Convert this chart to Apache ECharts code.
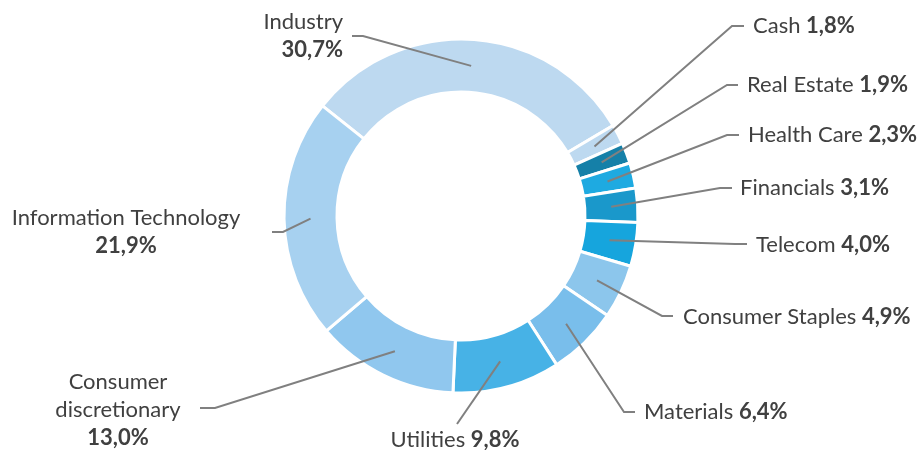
<!DOCTYPE html>
<html>
<head>
<meta charset="utf-8">
<script src="https://cdn.jsdelivr.net/npm/echarts@6/dist/echarts.min.js"></script>
<style>
html, body { margin: 0; padding: 0; background: #fff; }
#chart { width: 919px; height: 450px; }
</style>
</head>
<body>
<div id="chart"></div>
<script>
var categories = ['Industry', 'Cash', 'Real Estate', 'Health Care', 'Financials', 'Telecom',
    'Consumer Staples', 'Materials', 'Utilities', 'Consumer discretionary', 'Information Technology'];
var shares = [30.7, 1.8, 1.9, 2.3, 3.1, 4.0, 4.9, 6.4, 9.8, 13.0, 21.9];
var colors = ['#BDD9F0', '#BDD9F0', '#1580A8', '#1EAAE1', '#1A98CB', '#16A5DD',
    '#8CC6EC', '#79BEEB', '#47B2E6', '#90C7EE', '#A7D1F0'];

// where each label sits and how its leader line bends (pixels)
var labelSpots = [
    { x: 343, y: 36, align: 'right', bend: [363, 36], end: [352, 36], wrap: 'value' },
    { x: 753, y: 26, align: 'left', bend: [732, 26], end: [744, 26] },
    { x: 747, y: 85, align: 'left', bend: [727, 85], end: [738, 85] },
    { x: 748, y: 135, align: 'left', bend: [727, 135], end: [739, 135] },
    { x: 740, y: 188, align: 'left', bend: [720, 188], end: [732, 188] },
    { x: 756, y: 245, align: 'left', bend: [735, 244], end: [747, 244] },
    { x: 683, y: 317, align: 'left', bend: [662, 316], end: [673, 316] },
    { x: 644, y: 412, align: 'left', bend: [624, 412], end: [635, 412] },
    { x: 455, y: 440, align: 'center', bend: [457, 424], end: [457, 424] },
    { x: 118, y: 410, align: 'center', bend: [215, 408], end: [200, 408], wrap: 'all' },
    { x: 126, y: 232, align: 'center', bend: [283, 232], end: [272, 232], wrap: 'value' }
];

var cx = 461, cy = 216, rIn = 124, rOut = 177;
var startOffset = -51.5; // degrees clockwise from 12 o'clock

var total = shares.reduce(function (a, b) { return a + b; }, 0);

function fmt(v) {
    return v.toFixed(1).replace('.', ',') + '%';
}

function anchorPoint(i) {
    var before = 0;
    for (var k = 0; k < i; k++) before += shares[k];
    var deg = startOffset + (before + shares[i] / 2) / total * 360;
    var rad = deg * Math.PI / 180;
    var r = (rIn + rOut) / 2;
    return [cx + r * Math.sin(rad), cy - r * Math.cos(rad)];
}

var pieData = categories.map(function (name, i) {
    return { name: name, value: shares[i], itemStyle: { color: colors[i] } };
});

var chart = echarts.init(document.getElementById('chart'));
chart.setOption({
    animation: false,
    series: [
        {
            // coloured ring
            type: 'pie',
            z: 2,
            center: [cx, cy],
            radius: [rIn, rOut],
            startAngle: 90 - startOffset,
            clockwise: true,
            silent: true,
            itemStyle: {
                borderColor: '#fff',
                borderWidth: 3
            },
            label: { show: false },
            labelLine: { show: false },
            data: pieData
        },
        {
            // same slices, invisible, only carrying labels and leader lines on top
            type: 'pie',
            z: 5,
            center: [cx, cy],
            radius: [rIn, rOut],
            startAngle: 90 - startOffset,
            clockwise: true,
            avoidLabelOverlap: false,
            silent: true,
            itemStyle: { color: 'rgba(0,0,0,0)', borderWidth: 0 },
            label: {
                show: true,
                position: 'outside',
                color: '#404040',
                fontFamily: 'Lato',
                fontSize: 22,
                lineHeight: 28,
                formatter: function (p) {
                    var spot = labelSpots[p.dataIndex];
                    var v = '{v|' + fmt(p.value) + '}';
                    if (spot.wrap === 'all') {
                        return p.name.split(' ').map(function (w) { return '{n|' + w + '}'; }).join('\n') + '\n' + v;
                    }
                    if (spot.wrap === 'value') {
                        return '{n|' + p.name + '}\n' + v;
                    }
                    return '{n|' + p.name + '} ' + v;
                },
                rich: {
                    n: { color: '#404040', fontFamily: 'Lato', fontSize: 22, lineHeight: 28 },
                    v: { color: '#404040', fontFamily: 'Lato', fontSize: 22, lineHeight: 28, fontWeight: 'bold' }
                }
            },
            labelLine: {
                show: true,
                lineStyle: { color: '#808080', width: 2 }
            },
            labelLayout: function (params) {
                var i = params.dataIndex;
                var spot = labelSpots[i];
                return {
                    x: spot.x,
                    y: spot.y,
                    align: spot.align,
                    verticalAlign: 'middle',
                    labelLinePoints: [anchorPoint(i), spot.bend, spot.end]
                };
            },
            data: categories.map(function (name, i) {
                return { name: name, value: shares[i] };
            })
        }
    ]
});
</script>
</body>
</html>
